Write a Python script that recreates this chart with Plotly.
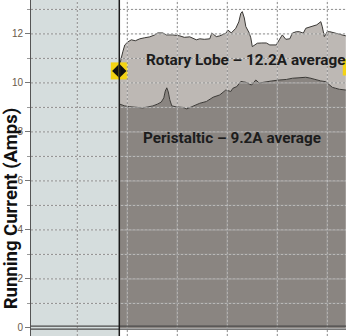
import plotly.graph_objects as go

# ---- data (x = seconds from start of test, y = amps) ----
rotary_x = [0, 1.5, 3.5, 5.5, 8.5, 12, 16, 20.5, 25, 30.5, 35.5, 38.5, 43.5, 47, 53.5, 60.5, 65, 70.5,
            77, 80.5, 85, 90.5, 92.5, 97, 100.5, 107, 108.5, 112, 116.5, 119.5, 121.5, 123, 125, 126.5,
            130, 131.5, 133, 138, 142.5, 147, 150.5, 157, 160, 163, 166.5, 170.5, 173, 177, 180, 184,
            186.5, 193, 197.5, 201.5, 203, 205, 208, 210.5, 216.5, 226.5]
rotary_y = [10.53, 10.94, 11.27, 11.55, 11.67, 11.76, 11.72, 11.80, 11.84, 11.88, 11.96, 12.04, 12.04,
            11.96, 11.96, 11.92, 11.86, 11.88, 11.76, 11.80, 11.78, 11.80, 12.04, 11.89, 11.92, 12.04,
            12.16, 12.04, 12.23, 12.49, 12.84, 12.91, 12.65, 12.30, 12.03, 11.84, 11.48, 11.62, 11.63,
            11.63, 11.55, 11.55, 11.76, 11.96, 11.78, 11.80, 12.03, 12.09, 12.09, 12.03, 12.23, 12.30,
            12.37, 12.50, 12.29, 11.89, 12.09, 12.09, 12.03, 11.92]

peri_x = [0, 5.5, 10.5, 15.5, 23.5, 28.5, 33.5, 38.5, 42, 44.5, 46, 47.5, 49, 50.5, 52.5, 57.5, 63.5,
          67.5, 73.5, 80.5, 87, 94, 100.5, 106.5, 111.5, 113.5, 117.5, 121.5, 124.5, 127, 130.5, 132.5,
          136.5, 140, 143.5, 146.5, 152.5, 160, 167, 173, 180.5, 186.5, 190.5, 196.5, 201.5, 206.5,
          209.5, 213, 216.5, 220, 226.5]
peri_y = [9.14, 9.06, 9.03, 9.02, 8.98, 9.02, 9.06, 9.14, 9.22, 9.39, 9.67, 9.80, 9.63, 9.31, 9.06,
          9.02, 9.00, 8.94, 9.06, 9.17, 9.24, 9.42, 9.51, 9.71, 9.65, 9.78, 9.85, 10.06, 10.04, 10.02,
          9.94, 9.92, 10.12, 9.99, 10.02, 10.05, 10.08, 10.12, 10.14, 10.19, 10.20, 10.23, 10.20, 10.12,
          10.08, 10.05, 9.96, 9.82, 9.78, 9.74, 9.71]

marker_x = [0, 232]
marker_y = [10.49, 10.65]

y_major = [0, 2, 4, 6, 8, 10, 12]
y_grid = [1, 2, 3, 4, 5, 6, 7, 8, 9, 10, 11, 12, 13]
x_grid = [-42, 8, 58, 108, 158, 208]

rotary_label = "Rotary Lobe – 12.2A average"
peri_label = "Peristaltic – 9.2A average"
y_title = "Running Current (Amps)"

X_RANGE = [-88.3, 226.7]
Y_RANGE = [-0.33, 13.384]

DARK = "#8a8581"
LIGHT = "#bdb8b4"
PANEL = "#d5dddd"
YELLOW = "#f4d312"
FONT = "Roboto"

fig = go.Figure()
fig.add_trace(go.Scatter(x=peri_x, y=peri_y, mode="lines", fill="tozeroy",
                         fillcolor=DARK, line=dict(color="#3a3835", width=1), hoverinfo="skip"))
fig.add_trace(go.Scatter(x=rotary_x, y=rotary_y, mode="lines", fill="tonexty",
                         fillcolor=LIGHT, line=dict(color="#3a3835", width=1), hoverinfo="skip"))
# yellow markers
fig.add_trace(go.Scatter(x=marker_x, y=marker_y, mode="markers",
                         marker=dict(symbol="square", size=17, color=YELLOW, line=dict(width=0)),
                         hoverinfo="skip"))
fig.add_trace(go.Scatter(x=marker_x[:1], y=marker_y[:1], mode="markers",
                         marker=dict(symbol="diamond", size=11, color="#111111", line=dict(width=0)),
                         hoverinfo="skip"))
fig.add_trace(go.Scatter(x=marker_x[:1], y=marker_y[:1], mode="markers",
                         marker=dict(symbol="line-ns", size=12, line=dict(color=YELLOW, width=1.5)),
                         hoverinfo="skip"))

shapes = []
# left shaded panel
shapes.append(dict(type="rect", xref="x", yref="paper", x0=X_RANGE[0], x1=0, y0=0, y1=1,
                   fillcolor=PANEL, line=dict(width=0), layer="below"))
# gridlines (above fills)
for v in y_grid:
    shapes.append(dict(type="line", xref="paper", yref="y", x0=0, x1=1, y0=v, y1=v,
                       line=dict(color="rgba(235,235,235,0.55)", width=1), layer="above"))
    shapes.append(dict(type="line", xref="paper", yref="y", x0=0, x1=1, y0=v, y1=v,
                       line=dict(color="#8e8e8e", width=1, dash="2px,2px"), layer="above"))
for v in x_grid:
    shapes.append(dict(type="line", xref="x", yref="paper", x0=v, x1=v, y0=0, y1=1,
                       line=dict(color="rgba(235,235,235,0.55)", width=1), layer="above"))
    shapes.append(dict(type="line", xref="x", yref="paper", x0=v, x1=v, y0=0, y1=1,
                       line=dict(color="#8e8e8e", width=1, dash="2px,2px"), layer="above"))
# double zero line
for v in (0.07, -0.05):
    shapes.append(dict(type="line", xref="paper", yref="y", x0=0, x1=1, y0=v, y1=v,
                       line=dict(color="#4a4a4a", width=1.3), layer="above"))
# start line
shapes.append(dict(type="line", xref="x", yref="paper", x0=0, x1=0, y0=0, y1=1,
                   line=dict(color="#1a1a1a", width=1.5), layer="above"))

annotations = [
    dict(x=126.5, y=10.94, xref="x", yref="y", text=rotary_label, showarrow=False,
         font=dict(family=FONT, size=15.3, color="#1c1c1c", weight="bold"), xanchor="center", yanchor="middle"),
    dict(x=113, y=7.76, xref="x", yref="y", text=peri_label, showarrow=False,
         font=dict(family=FONT, size=15.3, color="#1c1c1c", weight="bold"), xanchor="center", yanchor="middle"),
    dict(x=-0.0635, y=0.38, xref="paper", yref="paper", text=y_title, showarrow=False, textangle=-90,
         font=dict(family=FONT, size=18.5, color="#111111", weight="bold"),
         xanchor="center", yanchor="middle"),
]

fig.update_layout(
    width=346, height=336,
    margin=dict(l=31, r=0, t=0, b=0),
    paper_bgcolor="white", plot_bgcolor="white",
    showlegend=False,
    shapes=shapes, annotations=annotations,
    xaxis=dict(range=X_RANGE, showgrid=False, zeroline=False, showticklabels=False,
               ticks="", showline=False, fixedrange=True),
    yaxis=dict(range=Y_RANGE, showgrid=False, zeroline=False, tickmode="array",
               tickvals=y_major, ticktext=[str(v) for v in y_major],
               ticks="outside", ticklen=5, tickcolor="#777777", tickwidth=1,
               tickfont=dict(family="Liberation Sans", size=10, color="#6b5a49"),
               showline=True, linecolor="#555555", linewidth=1,
               minor=dict(tickvals=[1, 3, 5, 7, 9, 11, 13], ticks="outside", ticklen=3, tickcolor="#999999"),
               fixedrange=True),
)

fig.write_html("out.html")
